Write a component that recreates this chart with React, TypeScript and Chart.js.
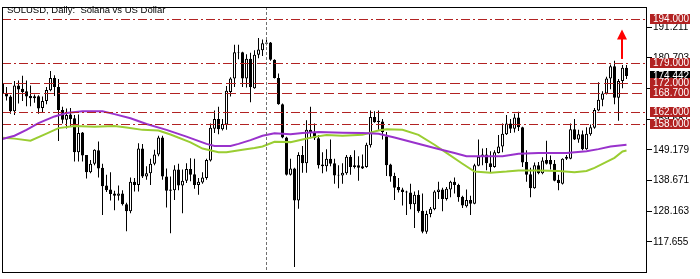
import { useEffect, useRef } from 'react';
import { Chart, registerables } from 'chart.js';

Chart.register(...registerables);

// ---- Daily candles ----
const opens = [
  171.9, 168.3, 167.4, 162.4, 171.2, 170.1, 169.2, 167.6, 166.8, 167.5,
  163.5, 165.9, 169.6, 173.8, 170.7, 162.8, 159.5, 161.3, 160.0, 148.3,
  155.1, 147.4, 141.5, 144.4, 149.0, 143.0, 136.9, 135.6, 134.2, 133.4,
  134.2, 130.5, 128.1, 138.2, 137.1, 149.6, 140.0, 141.1, 144.4, 147.6,
  153.4, 140.0, 135.6, 135.3, 142.4, 136.9, 138.6, 142.6, 140.8, 137.1,
  138.0, 139.5, 145.5, 156.4, 159.7, 156.2, 157.8, 169.0, 173.6, 182.4,
  182.6, 173.6, 180.4, 170.3, 181.7, 183.3, 185.5, 185.9, 180.0, 173.8,
  164.8, 153.4, 140.6, 142.8, 131.8, 147.4, 144.6, 156.0, 154.9, 153.1,
  144.1, 143.5, 146.1, 144.6, 140.6, 140.4, 141.1, 146.8, 143.9, 143.9,
  143.5, 143.3, 150.7, 160.4, 158.6, 158.9, 153.8, 144.1, 140.2, 136.4,
  135.6, 134.9, 134.5, 130.5, 133.8, 128.3, 121.1, 127.2, 128.8, 134.7,
  135.6, 132.3, 135.6, 138.2, 137.1, 133.1, 129.8, 132.0, 130.7, 143.7,
  146.8, 147.6, 144.6, 143.3, 148.1, 150.3, 154.5, 158.2, 156.4, 160.2,
  156.9, 145.0, 140.8, 136.0, 143.9, 141.1, 145.7, 145.7, 144.4, 138.9,
  137.5, 146.1, 146.1, 156.2, 152.7, 154.5, 149.4, 154.5, 156.7, 162.6,
  166.3, 168.5, 173.6, 177.8, 167.0, 172.7, 177.3,
];
const highs = [
  172.5, 170.7, 167.9, 172.7, 172.9, 174.5, 172.9, 171.2, 168.1, 167.9,
  167.4, 170.7, 176.2, 174.7, 173.4, 163.9, 163.3, 163.5, 161.1, 161.3,
  155.3, 147.4, 145.7, 149.4, 152.0, 144.4, 140.6, 141.5, 135.1, 136.9,
  135.3, 131.0, 139.7, 139.5, 151.4, 151.2, 143.5, 146.1, 149.2, 154.0,
  154.0, 142.8, 140.0, 143.9, 144.4, 142.4, 144.6, 146.3, 146.1, 139.5,
  141.5, 146.1, 158.2, 162.6, 163.9, 159.7, 171.0, 174.0, 185.2, 185.2,
  182.8, 181.9, 182.4, 183.3, 187.5, 187.0, 187.4, 186.1, 180.2, 175.3,
  165.0, 153.6, 146.1, 143.0, 148.3, 150.5, 159.3, 163.9, 158.2, 154.2,
  148.3, 149.4, 152.7, 146.1, 143.9, 144.6, 147.4, 147.4, 149.0, 147.0,
  147.6, 151.6, 162.6, 162.4, 162.6, 159.7, 155.3, 144.4, 141.3, 139.5,
  136.2, 135.1, 137.5, 134.9, 135.3, 134.2, 128.3, 129.6, 135.3, 138.2,
  136.2, 136.4, 138.6, 139.7, 137.5, 133.4, 135.6, 133.4, 144.4, 152.7,
  149.6, 149.8, 148.7, 149.0, 154.2, 158.2, 161.1, 159.7, 161.5, 162.2,
  157.1, 149.0, 143.0, 144.8, 145.0, 146.6, 152.3, 147.2, 145.7, 140.6,
  146.3, 147.4, 158.2, 159.7, 156.0, 155.8, 156.9, 157.8, 163.5, 172.3,
  169.2, 174.2, 178.4, 179.7, 173.4, 178.2, 178.2,
];
const lows = [
  168.1, 166.1, 161.5, 161.1, 165.0, 165.9, 164.1, 164.1, 165.3, 161.5,
  161.9, 164.8, 169.2, 167.6, 152.2, 158.2, 156.5, 157.3, 145.2, 145.2,
  145.2, 139.3, 141.1, 143.9, 139.7, 126.8, 134.7, 131.8, 128.5, 131.8,
  130.1, 121.3, 127.4, 134.9, 134.9, 139.5, 138.9, 137.1, 143.9, 147.0,
  138.9, 129.4, 120.6, 132.0, 135.3, 127.4, 137.8, 138.4, 135.8, 133.8,
  137.5, 138.9, 145.2, 154.9, 154.5, 155.8, 156.0, 167.4, 170.7, 180.2,
  170.7, 170.5, 165.5, 170.1, 180.5, 181.3, 185.0, 179.7, 173.6, 164.6,
  153.1, 140.4, 140.4, 109.0, 129.0, 141.3, 141.3, 153.1, 152.5, 142.8,
  141.1, 141.7, 143.5, 137.5, 136.0, 137.5, 140.6, 140.6, 142.8, 138.6,
  142.6, 143.0, 150.0, 158.4, 156.0, 152.7, 140.2, 138.2, 132.0, 134.5,
  130.1, 126.8, 128.8, 122.4, 127.6, 120.6, 120.4, 126.1, 128.5, 132.3,
  128.1, 131.8, 132.9, 134.2, 131.4, 129.2, 129.4, 126.8, 130.5, 143.5,
  143.9, 142.2, 141.3, 143.0, 147.9, 148.3, 154.2, 154.9, 155.1, 155.6,
  143.3, 138.2, 132.9, 135.8, 140.8, 140.8, 144.1, 142.4, 138.4, 135.3,
  137.3, 145.7, 145.9, 152.5, 151.6, 149.0, 149.2, 154.0, 156.4, 162.4,
  164.1, 168.1, 169.9, 164.8, 159.1, 170.3, 173.4,
];
const closes = [
  168.6, 167.4, 162.4, 171.2, 169.8, 169.0, 167.4, 166.8, 167.5, 163.3,
  165.9, 169.7, 173.8, 170.7, 162.8, 159.5, 161.1, 159.7, 148.3, 154.9,
  147.2, 141.5, 144.4, 149.2, 142.8, 136.7, 135.3, 134.0, 133.4, 134.2,
  130.5, 128.1, 138.2, 137.1, 149.6, 140.0, 141.1, 144.4, 147.6, 153.4,
  140.0, 135.1, 135.1, 142.4, 136.9, 138.6, 142.6, 140.6, 137.1, 138.2,
  139.7, 145.7, 156.7, 159.7, 156.2, 158.0, 169.4, 173.6, 182.6, 182.6,
  173.6, 180.4, 170.7, 181.7, 183.5, 185.7, 185.9, 180.0, 173.8, 164.8,
  153.4, 140.6, 142.8, 131.8, 147.4, 144.6, 156.0, 154.9, 153.1, 143.9,
  143.5, 146.1, 144.4, 140.4, 140.4, 141.3, 146.8, 143.3, 143.3, 143.0,
  142.8, 150.9, 160.4, 158.6, 159.1, 155.3, 143.9, 140.0, 136.2, 135.3,
  134.7, 134.5, 130.5, 133.8, 128.1, 121.1, 127.2, 129.0, 134.9, 135.6,
  132.3, 135.8, 138.2, 137.1, 132.9, 130.1, 132.0, 130.7, 143.9, 146.8,
  147.6, 144.6, 143.3, 148.3, 150.3, 154.7, 158.2, 156.4, 160.2, 156.9,
  144.8, 140.6, 136.0, 143.9, 141.1, 145.5, 144.4, 144.1, 138.6, 137.8,
  146.1, 146.8, 156.2, 152.7, 154.5, 149.4, 154.7, 156.9, 162.8, 166.3,
  168.5, 173.6, 177.8, 167.0, 172.7, 177.3, 174.442,
];

// ---- Moving averages (sampled read points: candle index -> value) ----
const purpleIdx = [0, 3, 6, 9, 13, 16, 20, 25, 28, 32, 36, 41, 46, 51, 53, 57, 59, 62, 65, 68, 72, 75, 79, 85, 90, 94, 98, 103, 108, 113, 116, 125, 129, 134, 141, 146, 149, 152, 156];
const purpleVals = [152.9, 154.0, 156.0, 158.3, 160.6, 161.8, 162.4, 162.4, 161.4, 160.0, 158.0, 156.0, 153.7, 151.2, 150.5, 150.5, 151.2, 152.5, 154.0, 154.8, 154.5, 154.9, 155.3, 155.0, 154.9, 154.7, 153.4, 151.6, 149.8, 148.1, 147.0, 147.0, 147.8, 148.1, 148.1, 148.7, 149.4, 150.3, 150.9];
const greenIdx = [0, 3, 7, 11, 14, 18, 23, 28, 31, 35, 39, 42, 47, 50, 54, 56, 60, 63, 65, 68, 72, 75, 78, 81, 85, 90, 94, 96, 100, 104, 108, 111, 115, 118, 122, 126, 129, 134, 139, 143, 146, 148, 151, 153, 155, 156];
const greenVals = [153.3, 153.0, 152.3, 154.7, 156.6, 157.3, 157.1, 157.3, 156.8, 156.0, 155.8, 154.4, 151.7, 149.6, 148.3, 148.3, 149.2, 149.8, 150.3, 151.9, 151.8, 152.7, 153.6, 154.2, 154.0, 154.3, 155.8, 156.2, 156.0, 154.3, 150.9, 148.1, 144.4, 141.7, 141.3, 141.7, 142.1, 142.1, 141.9, 141.5, 141.9, 143.0, 145.0, 146.4, 148.6, 148.9];

// ---- Axis ticks, levels and annotations ----
const yTicks = [117.655, 128.163, 138.671, 149.179, 159.687, 170.195, 180.703, 191.211];
const levelValues = [194.0, 179.0, 172.0, 168.7, 162.0, 158.0];
const levelDashed = [false, false, true, true, false, false];
const lastPrice = 174.442;
const separatorIndex = 66;
const arrowIndex = 155;
const arrowFrom = 180.3;
const arrowTo = 190.4;
const titleText = 'SOLUSD, Daily:  Solana vs US Dollar';

const FONT = '10px "Liberation Sans", Arial, sans-serif';
const TITLE_FONT = '9.5px "Liberation Sans", Arial, sans-serif';
const LEVEL_COLOR = '#B22222';

const overlayPlugin = {
  id: 'overlay',
  afterDatasetsDraw(chart: any) {
    const { ctx, chartArea: a, scales } = chart;
    const x = scales.x;
    const y = scales.y;
    ctx.save();
    ctx.beginPath();
    ctx.rect(a.left, a.top, a.right - a.left, a.bottom - a.top);
    ctx.clip();

    // vertical separator
    const sx = Math.floor(x.getPixelForValue(separatorIndex)) + 0.5;
    ctx.strokeStyle = '#707070';
    ctx.lineWidth = 1;
    ctx.setLineDash([3, 2]);
    ctx.beginPath();
    ctx.moveTo(sx, a.top);
    ctx.lineTo(sx, a.bottom);
    ctx.stroke();

    // horizontal levels
    levelValues.forEach((v, k) => {
      const py = Math.round(y.getPixelForValue(v)) + 0.5;
      ctx.strokeStyle = LEVEL_COLOR;
      ctx.setLineDash(levelDashed[k] ? [10, 4] : [9, 3, 2, 3]);
      ctx.beginPath();
      ctx.moveTo(a.left, py);
      ctx.lineTo(a.right, py);
      ctx.stroke();
    });
    ctx.setLineDash([]);

    // red arrow
    const ax = Math.floor(x.getPixelForValue(arrowIndex));
    const yBottom = y.getPixelForValue(arrowFrom);
    const yTip = y.getPixelForValue(arrowTo);
    const headH = 10;
    ctx.fillStyle = '#FF0000';
    ctx.fillRect(ax - 1, yTip + headH - 1, 2, yBottom - (yTip + headH - 1));
    ctx.beginPath();
    ctx.moveTo(ax, yTip);
    ctx.lineTo(ax + 5, yTip + headH);
    ctx.lineTo(ax - 5, yTip + headH);
    ctx.closePath();
    ctx.fill();
    ctx.restore();
  },
  afterDraw(chart: any) {
    const { ctx, chartArea: a, scales } = chart;
    const y = scales.y;
    ctx.save();
    // frame
    ctx.strokeStyle = '#000';
    ctx.lineWidth = 1;
    ctx.strokeRect(a.left + 0.5, a.top + 0.5, a.right - a.left - 1, a.bottom - a.top);

    // title
    ctx.font = TITLE_FONT;
    ctx.fillStyle = '#000';
    ctx.textBaseline = 'alphabetic';
    ctx.textAlign = 'left';
    ctx.fillText(titleText, 7, 13);

    // price labels
    ctx.font = FONT;
    const boxX = a.right + 3;
    const boxW = 40;
    ctx.textBaseline = 'middle';
    const lp = Math.round(y.getPixelForValue(lastPrice));
    ctx.fillStyle = '#000';
    ctx.fillRect(boxX, lp - 5, boxW, 10);
    ctx.fillStyle = '#fff';
    ctx.fillText(lastPrice.toFixed(3), boxX + 3, lp + 0.5);
    levelValues.forEach((v) => {
      const py = Math.round(y.getPixelForValue(v));
      ctx.fillStyle = LEVEL_COLOR;
      ctx.fillRect(boxX, py - 5, boxW, 10);
      ctx.fillStyle = '#fff';
      ctx.fillText(v.toFixed(3), boxX + 3, py + 0.5);
    });
    ctx.restore();
  },
};

export default function App() {
  const ref = useRef<HTMLCanvasElement | null>(null);
  useEffect(() => {
    if (!ref.current) return;
    const idx = opens.map((_, i) => i);
    const bodies = idx.map((i) => ({ x: i, y: [opens[i], closes[i]] }));
    const wicks = idx.map((i) => ({ x: i, y: [lows[i], highs[i]] }));
    const bodyColors = idx.map((i) => (closes[i] > opens[i] ? '#FFFFFF' : '#000000'));
    const purple = purpleIdx.map((i, k) => ({ x: i, y: purpleVals[k] }));
    const green = greenIdx.map((i, k) => ({ x: i, y: greenVals[k] }));

    const chart = new Chart(ref.current, {
      type: 'bar',
      data: {
        datasets: [
          {
            type: 'line',
            data: purple,
            borderColor: '#9932CC',
            borderWidth: 2,
            pointRadius: 0,
            tension: 0,
            fill: false,
            order: 0,
          } as any,
          {
            type: 'line',
            data: green,
            borderColor: '#9ACD32',
            borderWidth: 2,
            pointRadius: 0,
            tension: 0,
            fill: false,
            order: 0,
          } as any,
          {
            type: 'bar',
            data: bodies,
            backgroundColor: bodyColors,
            borderColor: '#000',
            borderWidth: 1,
            borderSkipped: false,
            barThickness: 3,
            grouped: false,
            inflateAmount: 0,
            order: 1,
          } as any,
          {
            type: 'bar',
            data: wicks,
            backgroundColor: '#000',
            borderWidth: 0,
            barThickness: 1,
            grouped: false,
            inflateAmount: 0,
            order: 2,
          } as any,
        ],
      },
      options: {
        responsive: false,
        animation: false,
        events: [],
        layout: { padding: { left: 2, top: 2, right: 0, bottom: 1 } },
        plugins: { legend: { display: false }, tooltip: { enabled: false } },
        scales: {
          x: {
            type: 'linear',
            display: false,
            offset: false,
            min: -0.125,
            max: 161.125,
          },
          y: {
            type: 'linear',
            position: 'right',
            min: 107.304,
            max: 198.094,
            afterFit: (s: any) => {
              s.width = 53;
            },
            afterBuildTicks: (s: any) => {
              s.ticks = yTicks.map((v) => ({ value: v }));
            },
            border: { display: false },
            grid: { drawOnChartArea: false, drawTicks: true, tickLength: 5, color: '#000', lineWidth: 1 },
            ticks: {
              autoSkip: false,
              padding: 1,
              color: '#000',
              font: { family: '"Liberation Sans", Arial, sans-serif', size: 10 },
              callback: (v: any) => Number(v).toFixed(3),
            },
          },
        },
      } as any,
      plugins: [overlayPlugin],
    });
    return () => chart.destroy();
  }, []);

  return (
    <div style={{ position: 'fixed', left: 0, top: 0, width: 700, height: 279, background: '#fff' }}>
      <canvas ref={ref} width={700} height={279} style={{ width: 700, height: 279, display: 'block' }} />
    </div>
  );
}
